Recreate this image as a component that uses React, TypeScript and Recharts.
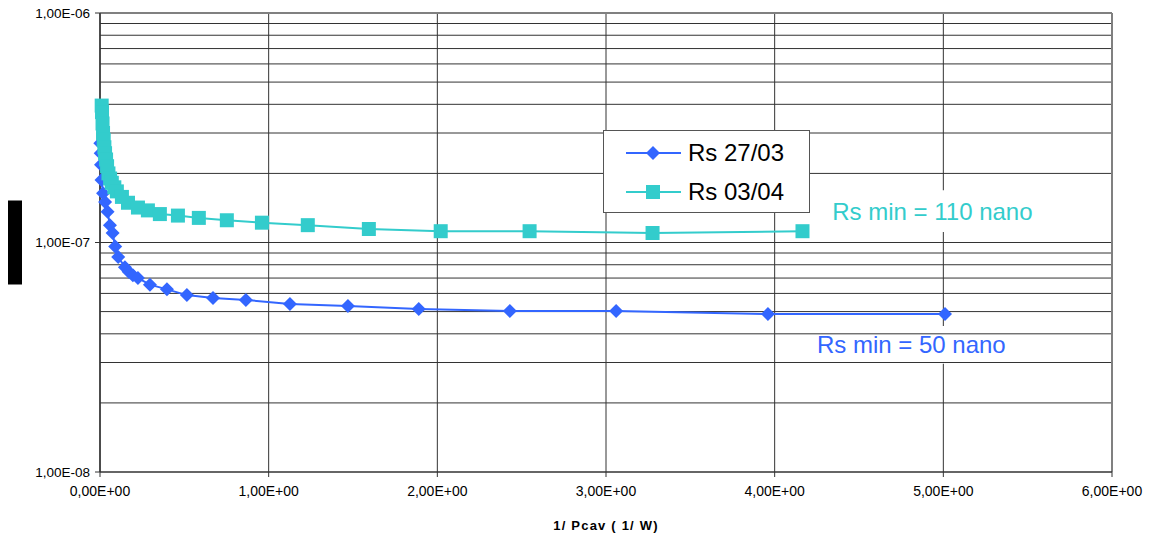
import React from 'react';
import { LineChart, Line, XAxis, YAxis, CartesianGrid, ReferenceLine, ReferenceArea } from 'recharts';

const BLUE = '#3366FF';
const CYAN = '#33CCCC';

// Series "Rs 27/03" (blue diamonds)
const rs2703X = [0.002, 0.004, 0.006, 0.009, 0.018, 0.030, 0.045, 0.059, 0.075, 0.090, 0.108, 0.148, 0.170, 0.195, 0.225, 0.296, 0.397, 0.515, 0.67, 0.865, 1.126, 1.47, 1.89, 2.43, 3.06, 3.96, 5.01];
const rs2703Y = [2.71e-7, 2.45e-7, 2.18e-7, 1.87e-7, 1.64e-7, 1.50e-7, 1.36e-7, 1.19e-7, 1.10e-7, 9.6e-8, 8.65e-8, 7.8e-8, 7.45e-8, 7.2e-8, 7.0e-8, 6.55e-8, 6.25e-8, 5.9e-8, 5.73e-8, 5.62e-8, 5.4e-8, 5.29e-8, 5.13e-8, 5.03e-8, 5.03e-8, 4.88e-8, 4.88e-8];

// Series "Rs 03/04" (cyan squares)
const rs0304X = [0.010, 0.012, 0.015, 0.018, 0.022, 0.026, 0.030, 0.036, 0.042, 0.050, 0.060, 0.070, 0.085, 0.100, 0.130, 0.166, 0.225, 0.284, 0.355, 0.462, 0.586, 0.752, 0.96, 1.232, 1.594, 2.02, 2.547, 3.276, 4.165];
const rs0304Y = [3.95e-7, 3.7e-7, 3.3e-7, 3.0e-7, 2.8e-7, 2.6e-7, 2.45e-7, 2.3e-7, 2.15e-7, 2.0e-7, 1.9e-7, 1.82e-7, 1.74e-7, 1.67e-7, 1.58e-7, 1.49e-7, 1.42e-7, 1.38e-7, 1.33e-7, 1.31e-7, 1.28e-7, 1.25e-7, 1.22e-7, 1.19e-7, 1.145e-7, 1.12e-7, 1.12e-7, 1.10e-7, 1.12e-7];

const xTicks = [0, 1, 2, 3, 4, 5, 6];
const yTicks = [1e-8, 1e-7, 1e-6];
const yMinorGrid = [2e-8, 3e-8, 4e-8, 5e-8, 6e-8, 7e-8, 8e-8, 9e-8, 1e-7, 2e-7, 3e-7, 4e-7, 5e-7, 6e-7, 7e-7, 8e-7, 9e-7];

const seriesNames = ['Rs 27/03', 'Rs 03/04'];
const annotations = ['Rs min = 110 nano', 'Rs min = 50 nano'];

const data2703 = rs2703X.map((x, i) => ({ x, y: rs2703Y[i] }));
const data0304 = rs0304X.map((x, i) => ({ x, y: rs0304Y[i] }));

const fmt = (v: number) => {
  const [m, e] = v.toExponential(2).split('e');
  const sign = e[0] === '-' ? '-' : '+';
  const digits = e.replace(/[+-]/, '').padStart(2, '0');
  return `${m.replace('.', ',')}E${sign}${digits}`;
};

const Diamond = (props: any) => {
  const { cx, cy } = props;
  if (cx == null || cy == null) return null;
  const r = 7;
  return <polygon points={`${cx},${cy - r} ${cx + r},${cy} ${cx},${cy + r} ${cx - r},${cy}`} fill={BLUE} />;
};

const Square = (props: any) => {
  const { cx, cy } = props;
  if (cx == null || cy == null) return null;
  const s = 14;
  return <rect x={cx - s / 2} y={cy - s / 2} width={s} height={s} fill={CYAN} />;
};

const LegendBox = () => (
  <div style={{ position: 'absolute', left: 603, top: 130, width: 205, height: 81, border: '1px solid #555', background: '#fff', fontFamily: 'Liberation Sans, Arial, sans-serif' }}>
    {[0, 1].map((i) => (
      <div key={i} style={{ display: 'flex', alignItems: 'center', height: 39, marginTop: i === 0 ? 2 : 0 }}>
        <svg width={84} height={20} style={{ flex: 'none' }}>
          <line x1={22} y1={10} x2={77} y2={10} stroke={i === 0 ? BLUE : CYAN} strokeWidth={2} />
          {i === 0 ? (
            <polygon points="49,3 56,10 49,17 42,10" fill={BLUE} />
          ) : (
            <rect x={42} y={3} width={14} height={14} fill={CYAN} />
          )}
        </svg>
        <span style={{ fontSize: 24, color: '#000' }}>{seriesNames[i]}</span>
      </div>
    ))}
  </div>
);

const YLabel = (props: any) => {
  const vb = props.viewBox || {};
  const cy = (vb.y || 0) + (vb.height || 0) / 2;
  const x = (vb.x || 0) - 32;
  return (
    <g>
      <rect x={x} y={cy - 42} width={14} height={84} fill="#000" />
      <text x={x + 7} y={cy + 4} fill="#000" fontSize={11} textAnchor="middle" transform={`rotate(-90 ${x + 7} ${cy})`}>Rs (Ohm)</text>
    </g>
  );
};

const XLabel = (props: any) => {
  const vb = props.viewBox || {};
  const cx = (vb.x || 0) + (vb.width || 0) / 2;
  return (
    <text x={cx} y={(vb.y || 0) + 58} textAnchor="middle" fontSize={13} fontWeight="bold" letterSpacing={1.2} fill="#000">
      1/ Pcav ( 1/ W)
    </text>
  );
};

export default function App() {
  return (
    <div style={{ position: 'absolute', left: 0, top: 0, width: 1152, height: 541, background: '#fff' }}>
      <LineChart width={1152} height={541} margin={{ top: 13, right: 40, bottom: 39, left: 40 }} style={{ fontFamily: 'Liberation Sans, Arial, sans-serif' }}>
        <CartesianGrid horizontal={false} vertical={true} stroke="#333" strokeWidth={1} />
        <XAxis
          type="number"
          dataKey="x"
          domain={[0, 6]}
          ticks={xTicks}
          tickFormatter={fmt}
          height={30}
          tickSize={5}
          tickMargin={9}
          tick={{ fontSize: 14, fill: '#000' }}
          axisLine={{ stroke: '#333', strokeWidth: 1.5 }}
          tickLine={{ stroke: '#333' }}
          label={<XLabel />}
        />
        <YAxis
          type="number"
          dataKey="y"
          scale="log"
          domain={[1e-8, 1e-6]}
          ticks={yTicks}
          tickFormatter={fmt}
          width={60}
          tickSize={5}
          tickMargin={5}
          tick={{ fontSize: 13.5, fill: '#000' }}
          axisLine={{ stroke: '#333', strokeWidth: 1.5 }}
          tickLine={{ stroke: '#333' }}
          label={<YLabel />}
        />
        {yMinorGrid.map((v) => (
          <ReferenceLine key={v} y={v} stroke="#333" strokeWidth={1} ifOverflow="hidden" />
        ))}
        <ReferenceLine y={1e-6} stroke="#808080" strokeWidth={2} />
        <ReferenceLine x={6} stroke="#808080" strokeWidth={2} />
        <ReferenceArea
          x1={4.27}
          x2={5.6}
          y1={1.11e-7}
          y2={1.69e-7}
          fill="#fff"
          fillOpacity={1}
          stroke="none"
          label={{ value: annotations[0], position: 'center', fill: CYAN, fontSize: 24 }}
        />
        <ReferenceArea
          x1={4.18}
          x2={5.44}
          y1={2.96e-8}
          y2={4.33e-8}
          fill="#fff"
          fillOpacity={1}
          stroke="none"
          label={{ value: annotations[1], position: 'center', fill: BLUE, fontSize: 24 }}
        />
        <Line data={data2703} dataKey="y" name={seriesNames[0]} stroke={BLUE} strokeWidth={2} dot={<Diamond />} activeDot={false} isAnimationActive={false} />
        <Line data={data0304} dataKey="y" name={seriesNames[1]} stroke={CYAN} strokeWidth={2} dot={<Square />} activeDot={false} isAnimationActive={false} />
      </LineChart>
      <LegendBox />
    </div>
  );
}
